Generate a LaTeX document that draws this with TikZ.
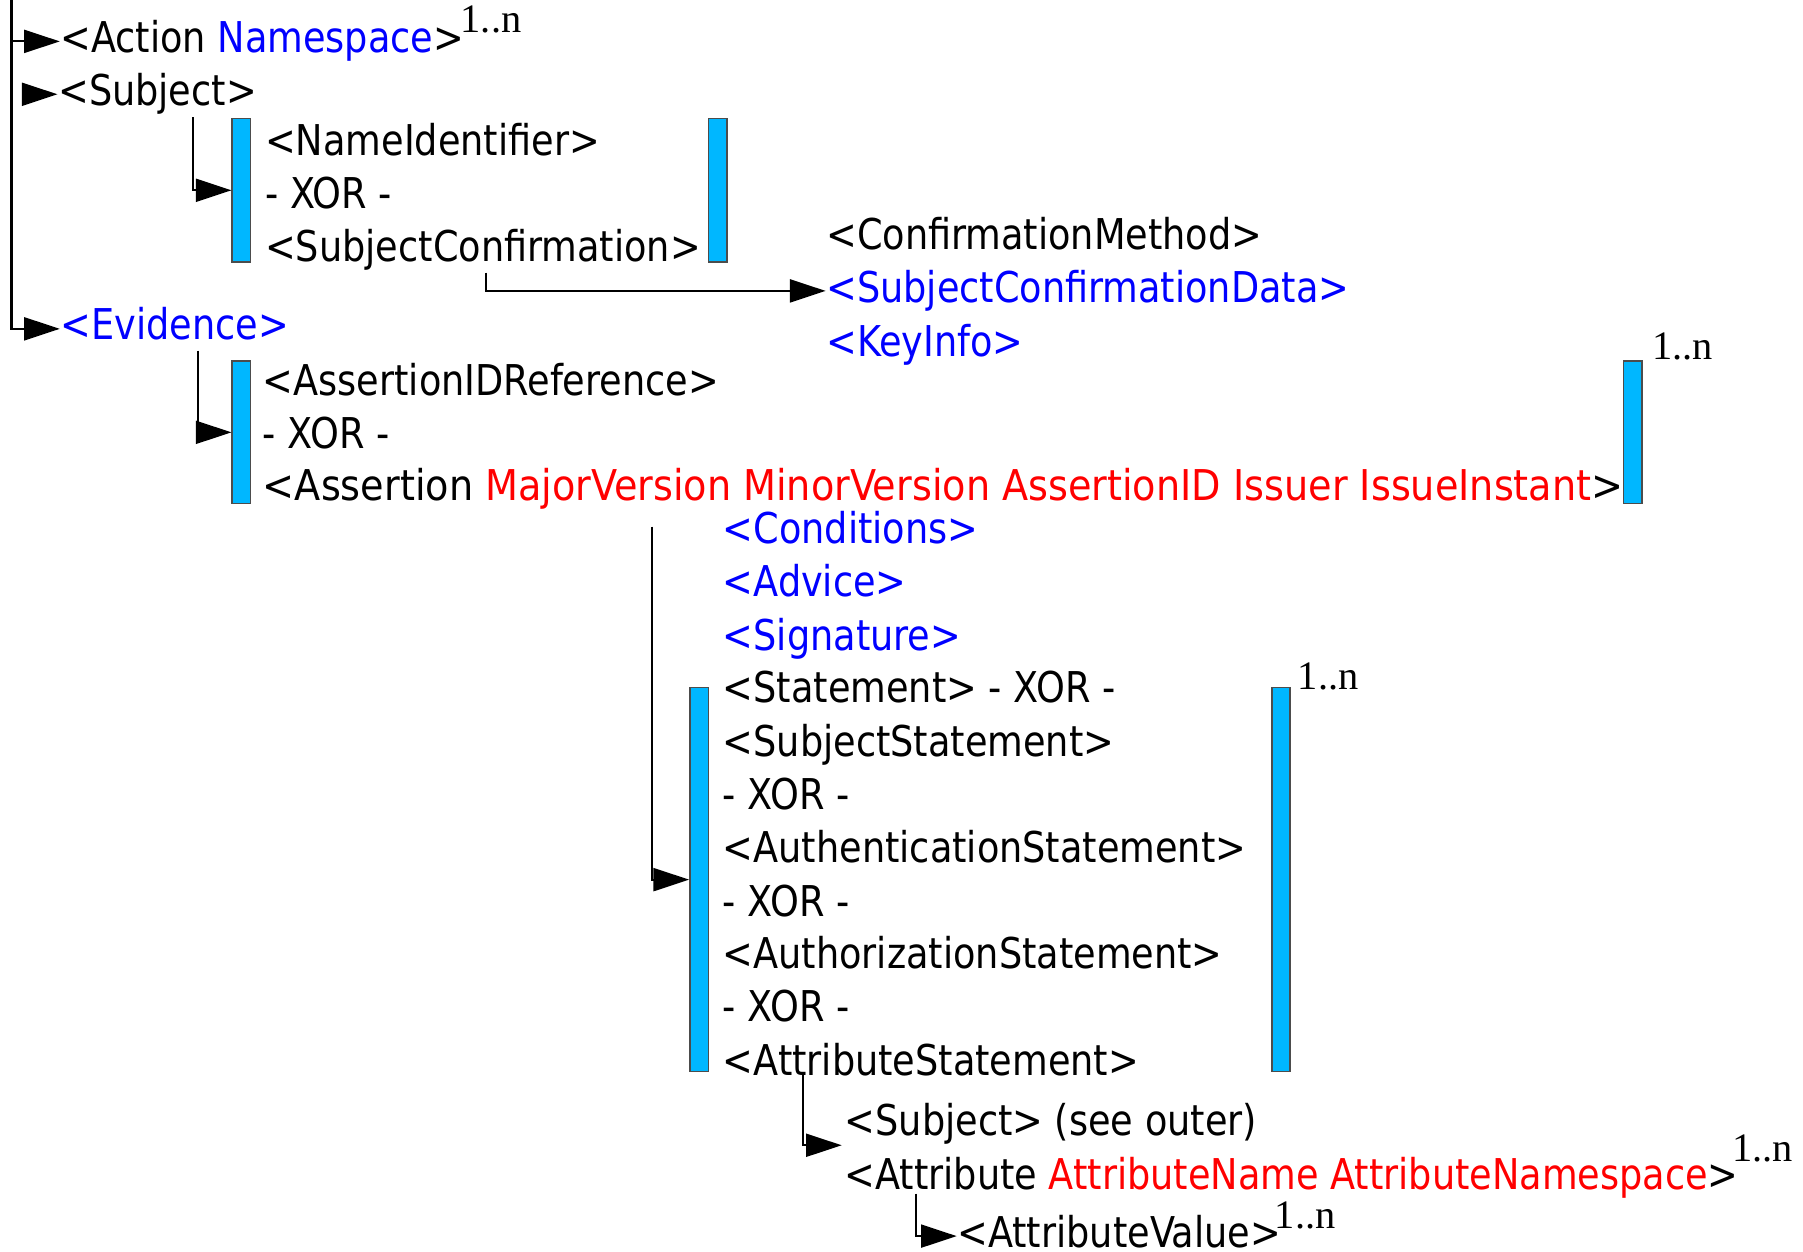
\documentclass[tikz,border=0pt]{standalone}
\usepackage{fontspec}
\setmainfont{DejaVu Sans Condensed}[FakeStretch=0.96]
\newfontfamily\widefont{DejaVu Sans Condensed}
\newfontfamily\multfont{Liberation Serif}
\usetikzlibrary{arrows.meta}
\definecolor{barblue}{RGB}{0,183,255}
\tikzset{
  tag/.style={anchor=west, inner sep=0pt, font=\fontsize{10.5}{12}\selectfont, text height=8pt, text depth=2.5pt},
  opt/.style={tag, text=blue},
  bar/.style={draw=black!70, fill=barblue, line width=0.4pt, minimum width=1.6mm, inner sep=0pt},
  link/.style={line width=0.5pt, -{Triangle[length=3.1mm, width=2mm]}},
  mult/.style={anchor=base west, inner sep=0pt, font=\multfont\fontsize{10}{12}\selectfont},
}
\newcommand{\att}[1]{\textcolor{red}{#1}}
\begin{document}
\begin{tikzpicture}[x=0.1mm,y=-0.1mm]
\useasboundingbox (0,0) rectangle (1568,1088);

% top level
\node[tag] (act) at (52,36) {<Action \textcolor{blue}{Namespace}>};
\node[mult] (m1) at (400,28) {1..n};
\node[tag] (subj) at (50,82) {<Subject>};
\node[opt] (ev) at (52,286) {<Evidence>};

% subject
\node[bar, minimum height=12.5mm] (b1l) at (210,165.5) {};
\node[bar, minimum height=12.5mm] (b1r) at (624,165.5) {};
\node[tag] (nid) at (230,126) {<NameIdentifier>};
\node[tag] (x1) at (230,172) {- XOR -};
\node[tag] (sc) at (230,218) {<SubjectConfirmation>};
\node[tag] (cm) at (718,207) {<ConfirmationMethod>};
\node[opt] (scd) at (718,253) {<SubjectConfirmationData>};
\node[opt] (ki) at (718,300) {<KeyInfo>};

% evidence
\node[bar, minimum height=12.4mm] (b2l) at (210,376) {};
\node[bar, minimum height=12.4mm] (b2r) at (1420,376) {};
\node[mult] (m2) at (1436,313) {1..n};
\node[tag] (aidr) at (228,334) {<AssertionIDReference>};
\node[tag] (x2) at (228,380) {- XOR -};
\node[tag] (asr) at (228,426) {\widefont <Assertion \att{MajorVersion MinorVersion AssertionID Issuer IssueInstant}>};

% assertion
\node[opt] (cond) at (628,463) {<Conditions>};
\node[opt] (adv) at (628,509) {<Advice>};
\node[opt] (sig) at (628,556) {<Signature>};
\node[bar, minimum height=33.4mm] (b3l) at (608,765) {};
\node[bar, minimum height=33.4mm] (b3r) at (1114,765) {};
\node[mult] (m3) at (1128,600) {1..n};
\node[tag] (stm) at (628,601) {<Statement> - XOR -};
\node[tag] (sst) at (628,648) {<SubjectStatement>};
\node[tag] (x3) at (628,694) {- XOR -};
\node[tag] (aust) at (628,740) {<AuthenticationStatement>};
\node[tag] (x4) at (628,787) {- XOR -};
\node[tag] (azst) at (628,833) {<AuthorizationStatement>};
\node[tag] (x5) at (628,879) {- XOR -};
\node[tag] (atst) at (628,926) {<AttributeStatement>};

% attribute statement
\node[tag] (sube) at (734,978) {<Subject> (see outer)};
\node[tag] (attr) at (734,1025) {<Attribute \att{AttributeName AttributeNamespace}>};
\node[mult] (m4) at (1506,1010) {1..n};
\node[tag] (aval) at (832,1075) {<AttributeValue>};
\node[mult] (m5) at (1108,1068) {1..n};

% connectors
\coordinate (root) at (10,0);
\draw[link] (root) |- (ev.west);
\draw[link] (root |- act.west) -- (act.west);
\draw[link] ([xshift=-2.8mm]subj.west) -- (subj.west);
\coordinate (t1) at (168,102);
\draw[link] (t1) |- (b1l.west);
\coordinate (t2) at (423,237);
\draw[link] (t2) |- (scd.west);
\coordinate (t3) at (172,305);
\draw[link] (t3) |- (b2l.west);
\coordinate (t4) at (567,458);
\draw[link] (t4) |- (b3l.west);
\coordinate (t5) at (698,935);
\coordinate (a5) at (732,996);
\draw[link] (t5) |- (a5);
\coordinate (t6) at (797,1038);
\draw[link] (t6) |- (aval.west);
\end{tikzpicture}
\end{document}
